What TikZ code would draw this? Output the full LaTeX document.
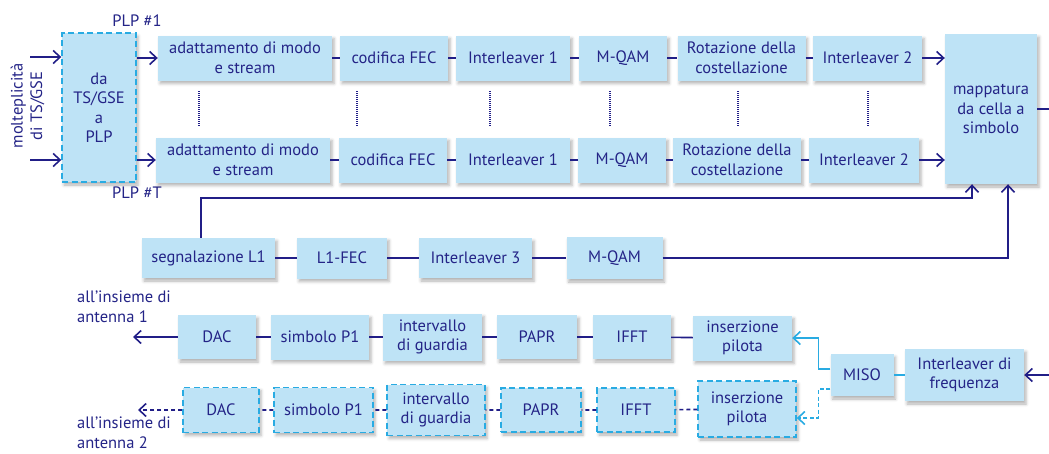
\documentclass[tikz,border=0pt]{standalone}
\usepackage{fontspec}
\usepackage{tikz}
\usetikzlibrary{arrows.meta, positioning, shadows.blur}

\newfontfamily\ptsans{PT Sans}
\definecolor{boxblue}{RGB}{190,227,246}
\definecolor{txtblue}{RGB}{36,36,135}
\definecolor{navyline}{RGB}{33,30,135}
\definecolor{cyanline}{RGB}{41,171,226}

\tikzset{
  blk/.style={fill=boxblue, text=txtblue, font=\ptsans\fontsize{16.5}{19.5}\selectfont,
    align=center, inner sep=0pt,
    blur shadow={shadow xshift=2pt, shadow yshift=-3pt, shadow blur radius=3pt, shadow opacity=30}},
  dblk/.style={blk, draw=cyanline, line width=1.4pt, dash pattern=on 6pt off 3.5pt},
  sz/.style 2 args={minimum width=#1, minimum height=#2},
  lbl/.style={text=txtblue, font=\ptsans\fontsize{16.5}{19.5}\selectfont, inner sep=0pt},
  ln/.style={draw=navyline, line width=1.6pt},
  cy/.style={draw=cyanline, line width=1.6pt},
  dotline/.style={draw=navyline, line width=1.6pt, dash pattern=on 1pt off 1pt},
  >={Straight Barb[length=7pt,width=13pt]}
}

\begin{document}
\begin{tikzpicture}[x=1pt, y=-1pt]
  \useasboundingbox (0,0) rectangle (1049,453);

  % ingresso e PLP
  \node [dblk, sz={74}{149}] (dab) at (99,107.5) {da\\TS/GSE\\a\\PLP};
  \node [lbl, align=center, rotate=90] (molt) at (27.5,106) {molteplicità\\di TS/GSE};
  \node [lbl] (plp1) at (137,21) {PLP \#1};
  \node [lbl] (plpt) at (137,193) {PLP \#T};

  % primo PLP
  \node [blk, sz={174}{45}] (ad1) at (245,58) {adattamento di modo\\e stream};
  \node [blk, sz={108}{45}] (fec1) at (394,58) {codifica FEC};
  \node [blk, sz={114}{45}] (ilva) at (513,58) {Interleaver 1};
  \node [blk, sz={88}{45}] (mqa) at (623,58) {M-QAM};
  \node [blk, sz={128}{45}] (rota) at (741.5,58) {Rotazione della\\costellazione};
  \node [blk, sz={109}{45}] (ilwa) at (867.5,58) {Interleaver 2};

  % ultimo PLP
  \node [blk, sz={174}{45}] (ad2) at (243,160) {adattamento di modo\\e stream};
  \node [blk, sz={108}{45}] (fec2) at (393,160) {codifica FEC};
  \node [blk, sz={114}{45}] (ilvb) at (513,160) {Interleaver 1};
  \node [blk, sz={88}{45}] (mqb) at (622,160) {M-QAM};
  \node [blk, sz={128}{45}] (rotb) at (737,160) {Rotazione della\\costellazione};
  \node [blk, sz={110}{45}] (ilwb) at (864,160) {Interleaver 2};

  \node [blk, sz={92}{150}] (map) at (991,109) {mappatura\\da cella a\\simbolo};

  % segnalazione L1
  \node [blk, sz={133}{40}] (segn) at (208.5,258) {segnalazione L1};
  \node [blk, sz={90}{41}] (lfec) at (342,258) {L1-FEC};
  \node [blk, sz={113}{40}] (ilvc) at (475.5,258) {Interleaver 3};
  \node [blk, sz={96}{42}] (mqc) at (614.5,258) {M-QAM};

  % antenna 1
  \node [blk, sz={78}{44}] (dac1) at (217,337) {DAC};
  \node [blk, sz={98}{45}] (simb1) at (320,337) {simbolo P1};
  \node [blk, sz={99}{47}] (int1) at (432.5,337) {intervallo\\di guardia};
  \node [blk, sz={80}{44}] (papr1) at (537,337) {PAPR};
  \node [blk, sz={78}{44}] (ifft1) at (632,337) {IFFT};
  \node [blk, sz={99}{45}] (pil1) at (742.5,338) {inserzione\\pilota};

  % antenna 2
  \node [dblk, sz={76}{45}] (dac2) at (221,410) {DAC};
  \node [dblk, sz={99}{45}] (simb2) at (323.5,410) {simbolo P1};
  \node [dblk, sz={98}{51}] (int2) at (436,410) {intervallo\\di guardia};
  \node [dblk, sz={80}{44}] (papr2) at (541,410) {PAPR};
  \node [dblk, sz={78}{44}] (ifft2) at (636,410) {IFFT};
  \node [dblk, sz={98}{56}] (pil2) at (747,409) {inserzione\\pilota};

  \node [blk, sz={63}{42}] (miso) at (862,375) {MISO};
  \node [blk, sz={119}{52}] (ifreq) at (964.5,375) {Interleaver di\\frequenza};

  \node [lbl, align=left, anchor=north west] (ant1) at (77,291) {all’insieme di\\antenna 1};
  \node [lbl, align=left, anchor=north west] (ant2) at (77,417) {all’insieme di\\antenna 2};

  % collegamenti
  \coordinate (ina) at (30,57);
  \coordinate (inb) at (30,160);
  \draw [ln, ->] (ina) -- (ina -| dab.west);
  \draw [ln, ->] (inb) -- (inb -| dab.west);
  \draw [ln, ->] (dab.east |- ad1) -- (ad1);
  \draw [ln, ->] (dab.east |- ad2) -- (ad2);
  \draw [ln] (ad1) -- (fec1) -- (ilva) -- (mqa) -- (rota) -- (ilwa);
  \draw [ln] (ad2) -- (fec2) -- (ilvb) -- (mqb) -- (rotb) -- (ilwb);
  \draw [ln, ->] (ilwa) -- (ilwa -| map.west);
  \draw [ln, ->] (ilwb) -- (ilwb -| map.west);
  \coordinate (mapout) at (1049,109);
  \draw [ln] (map) -- (mapout);
  \foreach \x in {199,357,490,610,738,868}
    \draw [dotline] (\x,91) -- (\x,127);

  \draw [ln] (segn) -- (lfec) -- (ilvc) -- (mqc);
  \draw [ln, ->] ([xshift=-7.5pt]segn.north) -- ++(0,-40) -| ([xshift=-19pt]map.south);
  \draw [ln, ->] (mqc) -| ([xshift=17pt]map.south);

  \coordinate (fin) at (1049,375);
  \draw [ln, ->] (fin) -- (ifreq);
  \draw [cy] (ifreq) -- (miso);
  \draw [cy, ->] ([yshift=6pt]miso.west) -- ++(-12,0) |- (pil1.east);
  \draw [cy, dash pattern=on 4pt off 2.5pt, ->] ([yshift=-14pt]miso.west) -- ++(-12,0) |- ([yshift=-9pt]pil2.east);

  \draw [ln] (pil1) -- (ifft1) -- (papr1) -- (int1) -- (simb1) -- (dac1);
  \coordinate (outa) at (133,337);
  \draw [ln, ->] (dac1) -- (outa);
  \draw [ln, dash pattern=on 4pt off 3pt] (pil2) -- (ifft2) -- (papr2) -- (int2) -- (simb2) -- (dac2);
  \coordinate (outb) at (138,410);
  \draw [ln, dash pattern=on 4pt off 3pt, ->] (dac2) -- (outb);
\end{tikzpicture}
\end{document}
